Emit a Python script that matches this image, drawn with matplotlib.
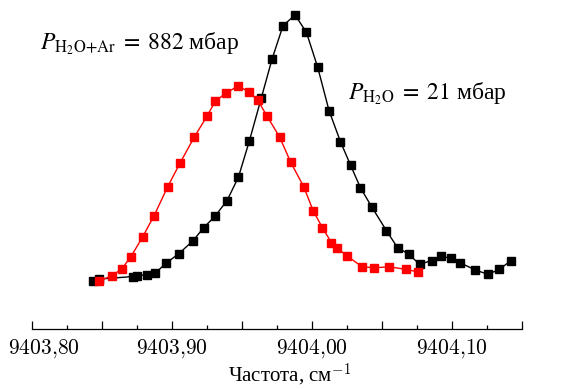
import matplotlib
matplotlib.use("Agg")
import matplotlib.pyplot as plt
from matplotlib.ticker import MultipleLocator, FuncFormatter

plt.rcParams['mathtext.fontset'] = 'cm'

# H2O + Ar, 882 mbar (red)
freq_mix = [9403.8481, 9403.8570, 9403.8642, 9403.8706, 9403.8790, 9403.8871,
            9403.8968, 9403.9059, 9403.9159, 9403.9250, 9403.9309, 9403.9386,
            9403.9474, 9403.9550, 9403.9612, 9403.9679, 9403.9769, 9403.9848,
            9403.9941, 9404.0008, 9404.0074, 9404.0139, 9404.0180, 9404.0253,
            9404.0358, 9404.0446, 9404.0549, 9404.0672, 9404.0754]
sig_mix = [0.154, 0.169, 0.192, 0.230, 0.293, 0.360, 0.452, 0.530, 0.611,
           0.678, 0.725, 0.752, 0.774, 0.755, 0.729, 0.678, 0.611, 0.531,
           0.453, 0.377, 0.323, 0.275, 0.257, 0.232, 0.198, 0.195, 0.198,
           0.190, 0.182]

# pure H2O, 21 mbar (black)
freq_h2o = [9403.8434, 9403.8479, 9403.8720, 9403.8749, 9403.8820, 9403.8878,
            9403.8956, 9403.9049, 9403.9150, 9403.9225, 9403.9307, 9403.9393,
            9403.9474, 9403.9552, 9403.9638, 9403.9715, 9403.9793, 9403.9879,
            9403.9960, 9404.0041, 9404.0122, 9404.0203, 9404.0275, 9404.0346,
            9404.0425, 9404.0532, 9404.0611, 9404.0690, 9404.0768, 9404.0854,
            9404.0918, 9404.0995, 9404.1057, 9404.1167, 9404.1257, 9404.1338,
            9404.1419]
sig_h2o = [0.154, 0.159, 0.167, 0.169, 0.173, 0.177, 0.209, 0.240, 0.281,
           0.322, 0.359, 0.409, 0.483, 0.598, 0.736, 0.860, 0.966, 1.000,
           0.945, 0.833, 0.695, 0.597, 0.522, 0.450, 0.390, 0.313, 0.259,
           0.239, 0.206, 0.218, 0.232, 0.225, 0.211, 0.188, 0.174, 0.190,
           0.217]

labels = [(9403.8057, 0.892, r'$P_{\mathrm{H_2O{+}Ar}}\;=\;882$ мбар'),
          (9404.026, 0.732, r'$P_{\mathrm{H_2O}}\;=\;21$ мбар')]

fig = plt.figure(figsize=(5.68, 3.89), dpi=100)
ax = fig.add_axes([32 / 568, 60 / 389, 490 / 568, 329 / 389])

ax.plot(freq_h2o, sig_h2o, color='black', lw=1.0, marker='s', ms=5.5,
        mec='black', mfc='black', zorder=2)
ax.plot(freq_mix, sig_mix, color='#ff0000', lw=1.0, marker='s', ms=5.5,
        mec='#ff0000', mfc='#ff0000', zorder=3)

ax.set_xlim(9403.80, 9404.15)
ax.set_ylim(0, 329 / 314)

for side in ('left', 'right', 'top'):
    ax.spines[side].set_visible(False)
ax.spines['bottom'].set_linewidth(0.9)
ax.set_yticks([])

ax.xaxis.set_major_locator(MultipleLocator(0.05))
ax.xaxis.set_minor_locator(MultipleLocator(0.025))


def tick_text(v):
    return ('$%.2f$' % v).replace('.', '{,}')


def fmt(v, pos):
    k = round(v * 100)
    # first label is drawn separately, nudged inside the figure
    if k % 10 != 0 or k == 940380:
        return ''
    return tick_text(v)


ax.xaxis.set_major_formatter(FuncFormatter(fmt))
ax.tick_params(axis='x', which='major', direction='in', length=5.5, width=0.9,
               labelsize=15.5, pad=6)
ax.tick_params(axis='x', which='minor', direction='in', length=3, width=0.9)

xmin = ax.get_xlim()[0]
ax.annotate(tick_text(xmin), xy=(xmin, 0), xycoords=('data', 'axes fraction'),
            xytext=(8.3, -6), textcoords='offset points', ha='center', va='top',
            fontsize=15.5, annotation_clip=False)

ax.set_xlabel('Частота, см$^{-1}$', fontsize=15, family='Liberation Serif',
              labelpad=1.5, x=0.5265)

for x, y, s in labels:
    ax.text(x, y, s, fontsize=17, family='Liberation Serif',
            math_fontfamily='stix', va='baseline', ha='left')

fig.savefig('out.png', dpi=100)
